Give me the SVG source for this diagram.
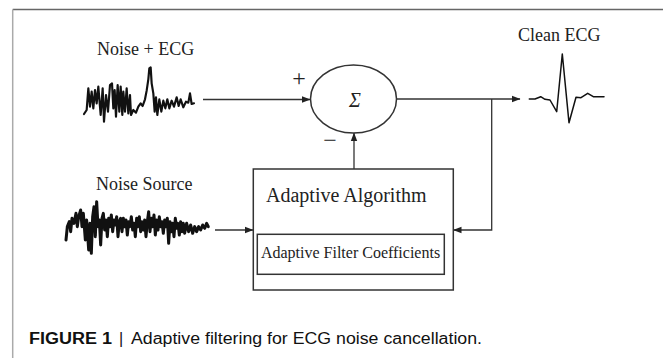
<svg xmlns="http://www.w3.org/2000/svg" width="663" height="358" viewBox="0 0 663 358">
<style>
.serif{font-family:"Liberation Serif","Times New Roman",serif;fill:#222}
.line{stroke:#333;stroke-width:1.3;fill:none}
.box{stroke:#333;stroke-width:1.5;fill:#fff}
.wave{stroke:#111;fill:none;stroke-linejoin:round;stroke-linecap:round}
</style>
<defs>
<marker id="arr" markerWidth="9" markerHeight="8" refX="8" refY="4" orient="auto" markerUnits="userSpaceOnUse">
<path d="M0,0.8 L8.5,4 L0,7.2 Z" fill="#222"/>
</marker>
</defs>
<rect width="663" height="358" fill="#fff"/>
<g id="frame">
<line x1="12.7" y1="9.5" x2="663" y2="9.5" stroke="#666" stroke-width="1.5"/>
<line x1="12.7" y1="9.5" x2="12.7" y2="358" stroke="#aaa" stroke-width="1.5"/>
</g>
<g id="connectors">
<line class="line" x1="203" y1="99.5" x2="310" y2="99.5" marker-end="url(#arr)"/>
<line class="line" x1="397" y1="99" x2="520" y2="99" marker-end="url(#arr)"/>
<polyline class="line" points="491.7,99 491.7,230 453.5,230" marker-end="url(#arr)"/>
<line class="line" x1="354" y1="169" x2="354" y2="133" marker-end="url(#arr)"/>
<line class="line" x1="215" y1="230" x2="253" y2="230" marker-end="url(#arr)"/>
</g>
<g id="noise-ecg">
<text class="serif" x="97" y="55" font-size="18">Noise + ECG</text>
<g transform="translate(80,60) scale(0.3333)">
<polyline class="wave" stroke-width="6.5" points="12,162 20,150 25,85 30,140 35,95 40,145 45,90 50,130 55,80 62,165 68,85 72,185 78,105 84,155 90,75 96,70 100,145 104,90 108,170 113,75 118,155 122,80 127,165 130,95 135,155 140,85 145,160 150,105 153,165 160,150 168,158 175,140 182,130 188,138 195,118 200,92 205,58 208,25 212,22 215,70 220,100 224,155 228,112 232,165 238,118 244,155 250,122 256,145 262,118 268,145 275,122 282,140 290,112 296,138 302,118 310,142 318,125 325,128 330,100 335,132 342,130"/>
</g>
</g>
<g id="noise-source">
<text class="serif" x="96" y="190" font-size="18">Noise Source</text>
<g transform="translate(60,160) scale(0.3333)">
<polyline class="wave" stroke-width="9" points="18,240 22,200 28,185 32,215 36,175 42,190 48,160 52,200 56,170 62,150 66,200 70,160 76,240 80,180 86,270 90,190 94,280 98,170 102,140 106,230 110,125 114,200 118,180 122,255 126,175 130,160 134,210 138,180 142,230 146,175 150,200 154,165 158,215 162,180 166,195 170,170 174,230 178,185 182,175 186,215 190,175 194,200 198,180 202,225 206,185 210,200 214,170 218,210 222,190 226,230 230,175 234,200 238,170 242,215 246,185 250,210 254,180 258,230 262,185 266,155 270,215 274,175 278,200 282,165 286,225 290,180 294,210 298,170 302,200 306,185 310,220 314,180 318,200 322,175 326,250 330,185 334,215 338,190 342,230 346,175 350,205 354,190 358,225 362,185 366,215 370,190 374,220 380,190 386,215 392,195 398,220 404,200 410,215 416,200 422,210 428,195 434,205 440,190 445,200"/>
</g>
</g>
<g id="sum">
<ellipse cx="353.5" cy="99" rx="43" ry="34" class="box" stroke-width="1.3"/>
<text class="serif" x="355" y="107" font-size="20" font-style="italic" text-anchor="middle">Σ</text>
<text class="serif" x="299" y="85.5" font-size="24" text-anchor="middle">+</text>
<text class="serif" x="330" y="148" font-size="24" text-anchor="middle">−</text>
</g>
<g id="adaptive-algorithm">
<rect class="box" x="253.3" y="169" width="200" height="121"/>
<text class="serif" x="266" y="202" font-size="20">Adaptive Algorithm</text>
</g>
<g id="adaptive-filter-coefficients">
<rect class="box" x="257.3" y="234.3" width="187" height="40"/>
<text class="serif" x="350.5" y="258.3" font-size="16" text-anchor="middle">Adaptive Filter Coefficients</text>
</g>
<g id="clean-ecg">
<text class="serif" x="518" y="40.7" font-size="18">Clean ECG</text>
<polyline class="wave" stroke="#333" stroke-width="1.5" points="529.3,99 535,99 540.7,96.7 545,99.3 550,100 556.7,111.7 562.3,54 569,122.7 576,97.3 581,97.7 587.7,93.3 593.3,96.7 604,96.7"/>
</g>
<g id="caption" font-family="'Liberation Sans',Arial,sans-serif" font-size="16" fill="#111">
<text y="344.3"><tspan x="29" font-weight="bold" textLength="83" lengthAdjust="spacingAndGlyphs">FIGURE 1</tspan><tspan x="119">|</tspan><tspan x="131" textLength="351" lengthAdjust="spacingAndGlyphs">Adaptive filtering for ECG noise cancellation.</tspan></text>
</g>
</svg>
